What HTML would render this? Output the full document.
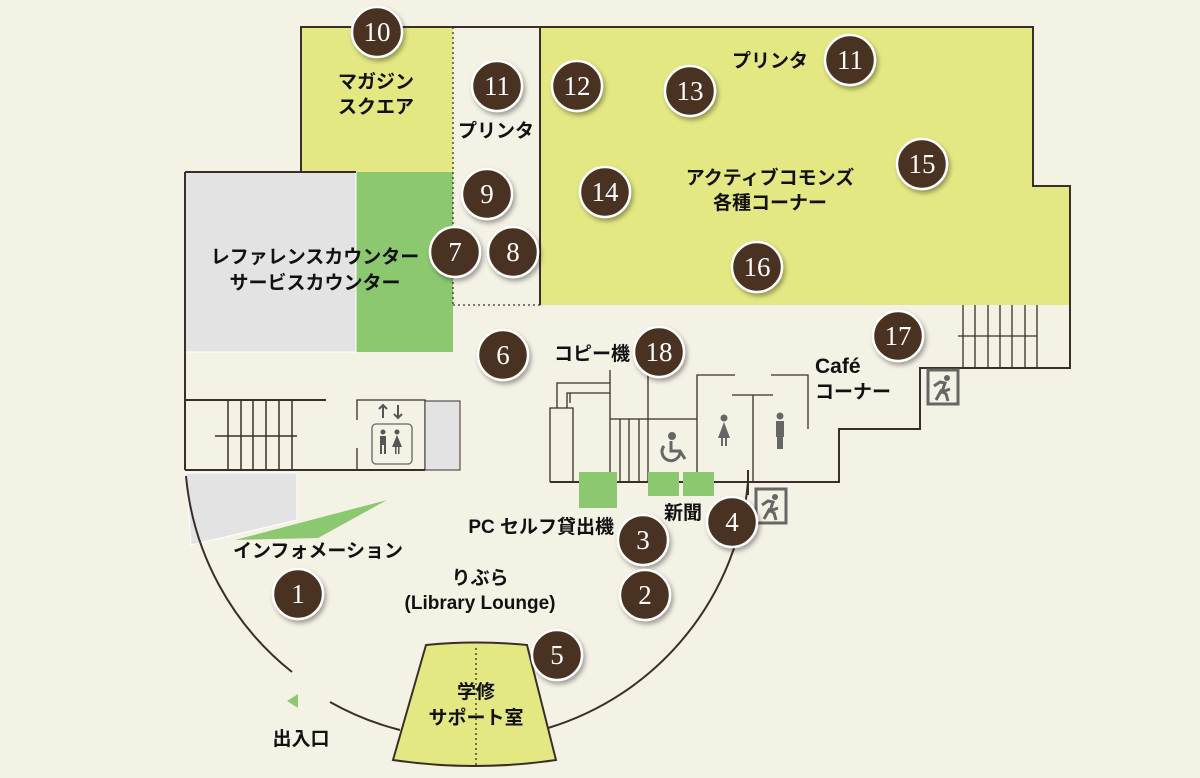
<!DOCTYPE html>
<html><head><meta charset="utf-8"><style>
html,body{margin:0;padding:0;background:#f4f1e5;}
svg{display:block}
text{font-family:"Liberation Sans","Noto Sans CJK JP",sans-serif;font-size:19px;fill:#111;font-weight:600;}
.n{font-family:"Liberation Serif","Noto Serif CJK SC",serif;font-size:27px;fill:#fff;text-anchor:middle;font-weight:normal;}
</style></head><body>
<svg width="1200" height="778" viewBox="0 0 1200 778" xmlns="http://www.w3.org/2000/svg">
<defs><filter id="sh" x="-50%" y="-50%" width="200%" height="200%"><feDropShadow dx="2" dy="3" stdDeviation="2.5" flood-color="#000" flood-opacity="0.35"/></filter>
<g id="exit"><rect x="0" y="0" width="30" height="34" fill="none" stroke="#666" stroke-width="3"/><circle cx="19" cy="8" r="3" fill="#666"/><polyline points="8,30 13,21 18,24 20,31" fill="none" stroke="#666" stroke-width="3"/><polyline points="6,16 12,12 17,13 14,22 22,19" fill="none" stroke="#666" stroke-width="3"/></g>
</defs>
<rect width="1200" height="778" fill="#f4f1e5"/>
<rect x="301" y="27" width="152" height="145" fill="#e4e883"/>
<polygon points="540,27 1033,27 1033,186 1070,186 1070,305 540,305" fill="#e4e883"/>
<rect x="356" y="172" width="97" height="180" fill="#8cc870"/>
<rect x="185" y="172" width="171" height="180" fill="#e3e3e3" stroke="#fff" stroke-width="1"/>
<g stroke="#3a2f28" stroke-width="2" fill="none">
<polyline points="301,172 301,27 1033,27 1033,186 1070,186 1070,368 920,368 920,429 839,429 839,482 550,482"/>
<line x1="540" y1="27" x2="540" y2="305"/>
<line x1="185" y1="172" x2="185" y2="470"/>
<line x1="185" y1="172" x2="356" y2="172"/>
<line x1="185" y1="470" x2="425" y2="470"/>
<line x1="185" y1="400" x2="326" y2="400"/>
</g>
<g stroke="#3a2f28" stroke-width="1.3" fill="none" stroke-dasharray="2,3">
<line x1="453" y1="27" x2="453" y2="305"/><line x1="453" y1="305" x2="540" y2="305"/>
</g>
<g stroke="#3a2f28" stroke-width="1.5">
<line x1="228" y1="400" x2="228" y2="470"/><line x1="241" y1="400" x2="241" y2="470"/><line x1="253" y1="400" x2="253" y2="470"/><line x1="266" y1="400" x2="266" y2="470"/><line x1="279" y1="400" x2="279" y2="470"/><line x1="292" y1="400" x2="292" y2="470"/>
<line x1="215" y1="436" x2="297" y2="436"/>
</g>
<g stroke="#3a2f28" stroke-width="1.3" fill="none">
<polyline points="357,420 357,400 425,400 425,470"/><line x1="357" y1="448" x2="357" y2="470"/>
</g>
<rect x="425" y="401" width="35" height="69" fill="#e3e3e3" stroke="#3a2f28" stroke-width="1"/>
<rect x="372" y="424" width="40" height="40" rx="4" fill="none" stroke="#666" stroke-width="1.3"/>
<g stroke="#555" stroke-width="2" fill="none"><line x1="383" y1="405" x2="383" y2="418"/><polyline points="379,409 383,405 387,409"/><line x1="398" y1="405" x2="398" y2="418"/><polyline points="394,414 398,418 402,414"/></g>
<g fill="#555"><circle cx="383" cy="432" r="2.5"/><rect x="380" y="436" width="6" height="9"/><rect x="380" y="445" width="2" height="9"/><rect x="384" y="445" width="2" height="9"/><circle cx="397" cy="432" r="2.5"/><polygon points="397,435 392,447 402,447"/><rect x="395" y="447" width="1.5" height="7"/><rect x="398" y="447" width="1.5" height="7"/></g>
<polygon points="186,473 297,473 297,520 191,545" fill="#e3e3e3" stroke="#fff"/>
<polygon points="235,540 387,500 318,538" fill="#8cc870"/>
<g stroke="#3a2f28" stroke-width="2" fill="none">
<path d="M186,476 A283,283 0 0 0 292,672"/>
<path d="M330,702 A283,283 0 0 0 400,730"/>
<path d="M548,728 A283,283 0 0 0 748,482"/>
<line x1="748" y1="470" x2="748" y2="495"/>
</g>
<polygon points="298,694 287,701 298,708" fill="#8cc870"/>
<path d="M426,645 Q476,640 527,645 L556,760 Q475,772 393,760 Z" fill="#e4e883" stroke="#3a2f28" stroke-width="2"/>
<line x1="476" y1="648" x2="476" y2="768" stroke="#3a2f28" stroke-width="1.3" stroke-dasharray="2,3"/>
<g stroke="#3a2f28" stroke-width="1.3" fill="none">
<polyline points="550,482 550,408 573,408 573,482"/>
<polyline points="557,408 557,383 610,383"/><polyline points="567,408 567,393 610,393"/><polyline points="570,403 570,393"/>
<line x1="610" y1="370" x2="610" y2="482"/>
<line x1="648" y1="370" x2="648" y2="482"/>
<line x1="610" y1="419" x2="697" y2="419"/>
<line x1="620" y1="419" x2="620" y2="482"/><line x1="629" y1="419" x2="629" y2="482"/><line x1="639" y1="419" x2="639" y2="482"/>
<polyline points="697,482 697,375 735,375"/><polyline points="771,375 808,375 808,429"/>
<line x1="732" y1="395" x2="773" y2="395"/><line x1="753" y1="395" x2="753" y2="482"/>
<line x1="963" y1="305" x2="963" y2="368"/><line x1="975" y1="305" x2="975" y2="368"/><line x1="988" y1="305" x2="988" y2="368"/><line x1="1000" y1="305" x2="1000" y2="368"/><line x1="1012" y1="305" x2="1012" y2="368"/><line x1="1025" y1="305" x2="1025" y2="368"/><line x1="1037" y1="305" x2="1037" y2="368"/>
<line x1="958" y1="336" x2="1037" y2="336"/>
</g>
<g fill="none" stroke="#666" stroke-width="3"><circle cx="672" cy="436" r="2.5" fill="#666"/><path d="M664,446 A9,9 0 1 0 680,452"/><polyline points="671,441 671,451 680,451 685,459"/></g>
<g fill="#666"><circle cx="724" cy="418" r="3.5"/><polygon points="724,422 718,438 730,438"/><rect x="721" y="436" width="2" height="10"/><rect x="725" y="436" width="2" height="10"/>
<circle cx="780" cy="416" r="3.5"/><rect x="776" y="421" width="8" height="16"/><rect x="777" y="436" width="6" height="13"/></g>
<use href="#exit" x="928" y="370"/>
<use href="#exit" x="756" y="489"/>
<rect x="579" y="472" width="38" height="36" fill="#8cc870"/>
<rect x="648" y="472" width="31" height="24" fill="#8cc870"/>
<rect x="683" y="472" width="31" height="24" fill="#8cc870"/>
<text x="376" y="88" text-anchor="middle">マガジン</text>
<text x="376" y="113" text-anchor="middle">スクエア</text>
<text x="496" y="137" text-anchor="middle">プリンタ</text>
<text x="770" y="67" text-anchor="middle">プリンタ</text>
<text x="770" y="184" text-anchor="middle">アクティブコモンズ</text>
<text x="770" y="209" text-anchor="middle">各種コーナー</text>
<text x="315" y="263" text-anchor="middle">レファレンスカウンター</text>
<text x="315" y="289" text-anchor="middle">サービスカウンター</text>
<text x="630" y="360" text-anchor="end">コピー機</text>
<text x="815" y="373" style="font-size:21px">Café</text>
<text x="815" y="398">コーナー</text>
<text x="318" y="557" text-anchor="middle">インフォメーション</text>
<text x="614" y="533" text-anchor="end">PC セルフ貸出機</text>
<text x="683" y="519" text-anchor="middle">新聞</text>
<text x="480" y="584" text-anchor="middle">りぶら</text>
<text x="480" y="609" text-anchor="middle">(Library Lounge)</text>
<text x="476" y="698" text-anchor="middle">学修</text>
<text x="476" y="724" text-anchor="middle">サポート室</text>
<text x="301" y="745" text-anchor="middle">出入口</text>
<g filter="url(#sh)" fill="#4a3322" stroke="#fff" stroke-width="2.5">
<circle cx="377" cy="32" r="25"/><circle cx="497" cy="86" r="25"/><circle cx="577" cy="86" r="25"/><circle cx="690" cy="91" r="25"/><circle cx="850" cy="60" r="25"/><circle cx="922" cy="164" r="25"/><circle cx="605" cy="192" r="25"/><circle cx="487" cy="194" r="25"/><circle cx="455" cy="252" r="25"/><circle cx="513" cy="252" r="25"/><circle cx="757" cy="267" r="25"/><circle cx="898" cy="336" r="25"/><circle cx="503" cy="355" r="25"/><circle cx="659" cy="352" r="25"/><circle cx="732" cy="522" r="25"/><circle cx="643" cy="540" r="25"/><circle cx="645" cy="595" r="25"/><circle cx="298" cy="594" r="25"/><circle cx="557" cy="655" r="25"/>
</g>
<g>
<text class="n" x="377" y="41">10</text><text class="n" x="497" y="95">11</text><text class="n" x="577" y="95">12</text><text class="n" x="690" y="100">13</text><text class="n" x="850" y="69">11</text><text class="n" x="922" y="173">15</text><text class="n" x="605" y="201">14</text><text class="n" x="487" y="203">9</text><text class="n" x="455" y="261">7</text><text class="n" x="513" y="261">8</text><text class="n" x="757" y="276">16</text><text class="n" x="898" y="345">17</text><text class="n" x="503" y="364">6</text><text class="n" x="659" y="361">18</text><text class="n" x="732" y="531">4</text><text class="n" x="643" y="549">3</text><text class="n" x="645" y="604">2</text><text class="n" x="298" y="603">1</text><text class="n" x="557" y="664">5</text>
</g>
</svg>
</body></html>
